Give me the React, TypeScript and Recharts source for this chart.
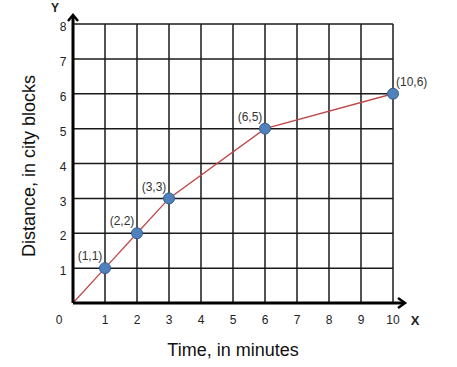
import React from "react";
import {
	LineChart,
	Line,
	CartesianGrid,
	XAxis,
	YAxis,
	ReferenceDot
} from "recharts";

const times = [0, 1, 2, 3, 6, 10];
const distances = [0, 1, 2, 3, 5, 6];
const xTicks = [0, 1, 2, 3, 4, 5, 6, 7, 8, 9, 10];
const yTicks = [0, 1, 2, 3, 4, 5, 6, 7, 8];

const data = times.map((t, i) => ({ time: t, dist: distances[i] }));

const tickFont = "'Liberation Sans', Arial, sans-serif";

const XTick = (props: any) => {
	const { x, y, payload } = props;
	const v = payload.value;
	const dx = v === 0 ? -14 : 0;
	return (
		<text x={x + dx} y={y + 17} dy="0.35em" textAnchor="middle" fontSize={12} fill="#222" fontFamily={tickFont}>
			{v}
		</text>
	);
};

const YTick = (props: any) => {
	const { x, y, payload } = props;
	if (payload.value === 0) return <g />;
	return (
		<text x={x - 10} y={y + 3} dy="0.35em" textAnchor="middle" fontSize={12} fill="#222" fontFamily={tickFont}>
			{payload.value}
		</text>
	);
};

const PointDot = (props: any) => {
	const { cx, cy, index, payload } = props;
	if (index === 0) return <g key={"d" + index} />;
	const last = index === data.length - 1;
	return (
		<g key={"d" + index}>
			<circle cx={cx} cy={cy} r={5.5} fill="#4F81BD" stroke="#385D8A" strokeWidth={1} />
			<text
				x={last ? cx + 3 : cx - 15}
				y={cy - 12}
				dy="0.35em"
				textAnchor={last ? "start" : "middle"}
				fontSize={12}
				fill="#333"
				fontFamily={tickFont}
			>
				{`(${payload.time},${payload.dist})`}
			</text>
		</g>
	);
};

const UpArrow = (props: any) => {
	const { cx, cy } = props;
	return (
		<g>
			<line x1={cx} y1={cy} x2={cx} y2={cy - 8} stroke="#000" strokeWidth={3} />
			<polyline points={`${cx - 5},${cy - 3} ${cx},${cy - 9} ${cx + 5},${cy - 3}`} fill="none" stroke="#000" strokeWidth={2.5} />
		</g>
	);
};

const RightArrow = (props: any) => {
	const { cx, cy } = props;
	return (
		<g>
			<line x1={cx} y1={cy} x2={cx + 11} y2={cy} stroke="#000" strokeWidth={3} />
			<polyline points={`${cx + 5},${cy - 5} ${cx + 12},${cy} ${cx + 5},${cy + 5}`} fill="none" stroke="#000" strokeWidth={2.5} />
		</g>
	);
};

const App = () => {
	return (
		<div style={{ position: "absolute", left: 0, top: 0, width: 457, height: 367, background: "#fff" }}>
			<LineChart
				width={457}
				height={367}
				data={data}
				margin={{ top: 24, right: 64, bottom: 34, left: 33 }}
			>
				<CartesianGrid stroke="#1a1a1a" strokeWidth={1.5} horizontalValues={yTicks} verticalValues={xTicks} />
				<XAxis
					dataKey="time"
					type="number"
					domain={[0, 10]}
					ticks={xTicks}
					interval={0}
					height={30}
					tickSize={0}
					tickMargin={0}
					tickLine={false}
					axisLine={{ stroke: "#000", strokeWidth: 3 }}
					tick={<XTick />}
				/>
				<YAxis
					dataKey="dist"
					type="number"
					domain={[0, 8]}
					ticks={yTicks}
					interval={0}
					width={40}
					tickSize={0}
					tickMargin={0}
					tickLine={false}
					axisLine={{ stroke: "#000", strokeWidth: 3 }}
					tick={<YTick />}
				/>
				<Line
					type="linear"
					dataKey="dist"
					stroke="#C0474A"
					strokeWidth={1.3}
					dot={PointDot}
					activeDot={false}
					isAnimationActive={false}
				/>
				<ReferenceDot x={0} y={8} ifOverflow="visible" shape={UpArrow} />
				<ReferenceDot x={10} y={0} ifOverflow="visible" shape={RightArrow} />
				<text x={415} y={320} dy="0.35em" textAnchor="middle" fontSize={13} fontWeight="bold" fontFamily={tickFont} fill="#222">X</text>
				<text x={55} y={8} dy="0.35em" textAnchor="middle" fontSize={12} fontWeight="bold" fontFamily={tickFont} fill="#222">Y</text>
				<text x={233} y={350} dy="0.35em" textAnchor="middle" fontSize={18} fontFamily={tickFont} fill="#111">Time, in minutes</text>
				<text
					x={29}
					y={166}
					dy="0.35em"
					textAnchor="middle"
					fontSize={18}
					fontFamily={tickFont}
					fill="#111"
					transform="rotate(-90 29 166)"
				>
					Distance, in city blocks
				</text>
			</LineChart>
		</div>
	);
};

export default App;
